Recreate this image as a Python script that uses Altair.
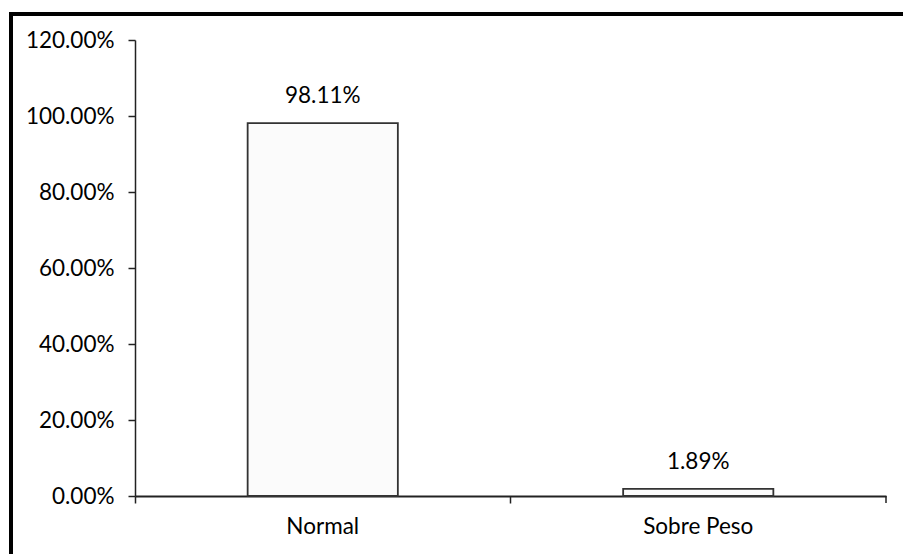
import altair as alt
import pandas as pd

categories = ["Normal", "Sobre Peso"]
values = [0.9811, 0.0189]
y_ticks = [0.0, 0.2, 0.4, 0.6, 0.8, 1.0, 1.2]

df = pd.DataFrame({"cat": categories, "val": values})

W, H = 751, 456
FONT = "Lato"
FS = 22.5

x_enc = alt.X(
    "cat:N",
    sort=categories,
    scale=alt.Scale(paddingInner=0.6, paddingOuter=0.3),
    axis=alt.Axis(
        title=None,
        bandPosition=-0.75,
        labelAngle=0,
        labelFont=FONT,
        labelFontSize=FS,
        labelColor="black",
        labelPadding=12,
        tickSize=7,
        tickColor="#222",
        tickWidth=1.5,
        domainColor="#222",
        domainWidth=1.8,
    ),
)

y_enc = alt.Y(
    "val:Q",
    scale=alt.Scale(domain=[0, 1.2]),
    axis=alt.Axis(
        title=None,
        values=y_ticks,
        format=".2%",
        grid=False,
        labelFont=FONT,
        labelFontSize=FS,
        labelColor="black",
        labelPadding=14,
        tickSize=7,
        tickColor="#222",
        tickWidth=1.5,
        domainColor="#222",
        domainWidth=1.5,
    ),
)

base = alt.Chart(df)

bars = base.mark_bar(
    fill="#fbfbfb", stroke="#333", strokeWidth=1.8
).encode(x=x_enc, y=y_enc)

labels = base.mark_text(
    dy=-27, font=FONT, fontSize=FS, color="black"
).encode(
    x=alt.X("cat:N", sort=categories),
    y="val:Q",
    text=alt.Text("val:Q", format=".2%"),
)

end_tick = base.transform_filter(alt.datum.cat == categories[0]).mark_rule(
    color="#222", strokeWidth=1.5
).encode(x=alt.value(W), y=alt.value(H), y2=alt.value(H + 7))

border = base.transform_filter(alt.datum.cat == categories[0]).mark_rect(
    fill=None, stroke="black", strokeWidth=4, clip=False
).encode(
    x=alt.value(-124), x2=alt.value(W + 60),
    y=alt.value(-26), y2=alt.value(H + 120),
)

chart = (
    alt.layer(bars, labels, end_tick, border)
    .properties(
        width=W,
        height=H,
        padding={"left": 135, "top": 40, "right": 17, "bottom": 58},
        autosize=alt.AutoSizeParams(type="none"),
        background="white",
    )
    .configure_view(stroke=None)
)

chart.save("out.html", embed_options={"renderer": "svg", "actions": False})
